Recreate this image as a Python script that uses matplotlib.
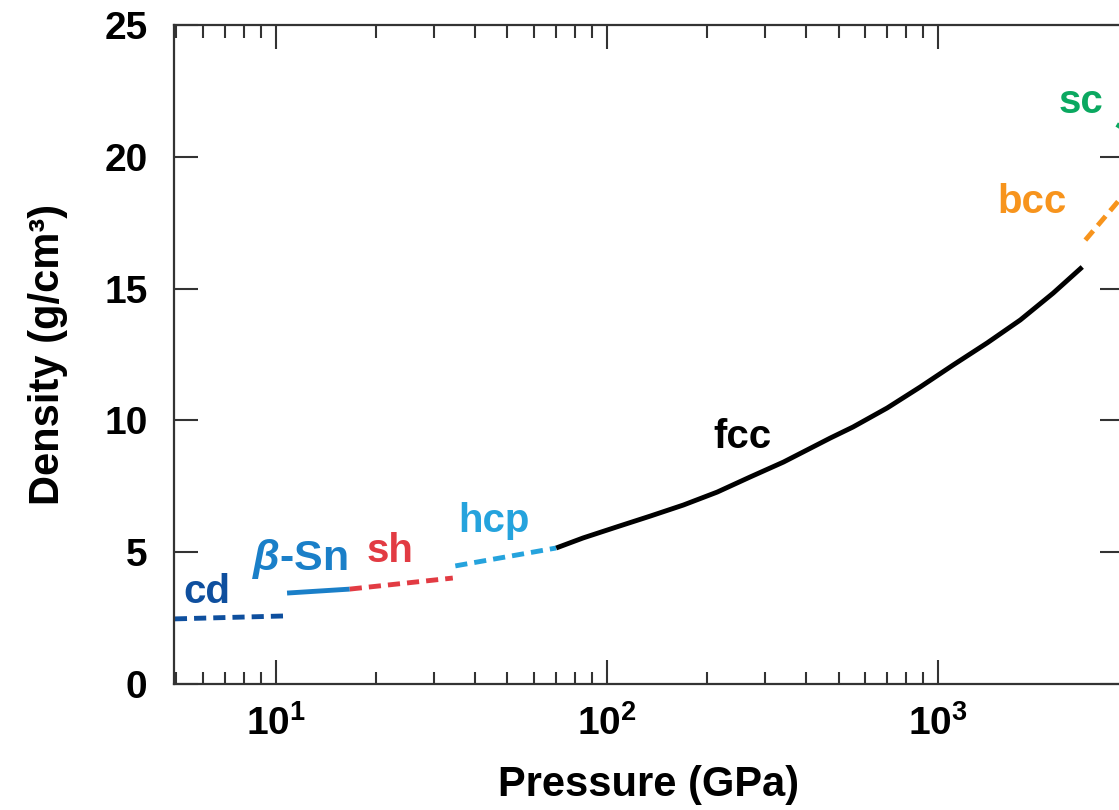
import numpy as np
import matplotlib
matplotlib.use('Agg')
import matplotlib.pyplot as plt
from matplotlib.ticker import FixedLocator, NullFormatter

plt.rcParams['font.family'] = ['Liberation Sans', 'DejaVu Sans']
plt.rcParams['font.weight'] = 'bold'
plt.rcParams['mathtext.fontset'] = 'custom'
plt.rcParams['mathtext.default'] = 'bf'
plt.rcParams['mathtext.bf'] = 'Liberation Sans:bold'
plt.rcParams['mathtext.rm'] = 'Liberation Sans:bold'
plt.rcParams['mathtext.it'] = 'Liberation Sans:bold:italic'

# phase segments: pressure (GPa) and density (g/cm3)
cd_p, cd_rho = [4.95, 10.5], [2.47, 2.58]
bsn_p, bsn_rho = [10.8, 16.7], [3.45, 3.60]
sh_p, sh_rho = [16.7, 34.2], [3.60, 4.02]
hcp_p, hcp_rho = [34.8, 70.2], [4.48, 5.16]
fcc_p = [70.2, 84.6, 107, 135, 170, 215, 270, 341, 472, 553, 701, 883,
         1109, 1406, 1770, 2225, 2723]
fcc_rho = [5.16, 5.54, 5.96, 6.37, 6.79, 7.28, 7.85, 8.42, 9.33, 9.75,
           10.47, 11.27, 12.10, 12.94, 13.81, 14.83, 15.82]
bcc_p, bcc_rho = [2782, 3800], [16.84, 18.85]
sc_p, sc_rho = [3480, 3800], [21.1, 21.9]

phase_names = ['cd', r'$\mathit{\beta}$-Sn', 'sh', 'hcp', 'fcc', 'bcc', 'sc']
label_p = [6.19, 11.8, 22.1, 45.6, 256, 1923, 2705]
label_rho = [3.07, 4.32, 4.63, 5.77, 8.95, 17.87, 21.66]
label_size = [29, 31, 29, 29, 29, 29, 29]
colours = ['#0e4f9e', '#1a7fc8', '#e23b43', '#25a3dd', 'black', '#f7941d', '#0aa860']

x_major = [10, 100, 1000]
x_major_labels = [r'$10^{1}$', r'$10^{2}$', r'$10^{3}$']
x_minor = [5, 6, 7, 8, 9, 20, 30, 40, 50, 60, 70, 80, 90,
           200, 300, 400, 500, 600, 700, 800, 900]
y_ticks = [0, 5, 10, 15, 20, 25]

fig = plt.figure(figsize=(11.19, 8.10), dpi=100)
ax = fig.add_axes([174 / 1119, 126 / 810, 950 / 1119, 659 / 810])

lw = 3.5
dash = (2.5, 1.45)
segs = [(cd_p, cd_rho, '--'), (bsn_p, bsn_rho, '-'), (sh_p, sh_rho, '--'),
        (hcp_p, hcp_rho, '--'), (fcc_p, fcc_rho, '-'), (bcc_p, bcc_rho, '--'),
        (sc_p, sc_rho, '--')]
for (p, rho, ls), c in zip(segs, colours):
    line, = ax.plot(p, rho, color=c, lw=lw, ls=ls, solid_capstyle='butt',
                    solid_joinstyle='round')
    if ls == '--':
        line.set_dashes(dash)

for name, p, rho, c, fs in zip(phase_names, label_p, label_rho, colours, label_size):
    ax.text(p, rho, name, color=c, fontsize=fs, fontweight='bold',
            ha='center', va='baseline')

ax.set_xscale('log')
ax.set_xlim(4.92, 3640)
ax.set_ylim(0, 25)

ax.xaxis.set_major_locator(FixedLocator(x_major))
ax.xaxis.set_minor_locator(FixedLocator(x_minor))
ax.xaxis.set_minor_formatter(NullFormatter())
ax.set_xticks(x_major, x_major_labels)
ax.set_yticks(y_ticks)

ax.tick_params(which='both', direction='in', top=True, right=True,
               color='#333333', width=1.5)
ax.tick_params(which='major', length=17, labelsize=28)
ax.tick_params(which='minor', length=9)
ax.tick_params(axis='y', pad=19)
ax.tick_params(axis='x', pad=15)
for s in ax.spines.values():
    s.set_linewidth(1.6)
    s.set_color('#333333')

ax.set_xlabel('Pressure (GPa)', fontsize=30, fontweight='bold', labelpad=16)
ax.set_ylabel('Density (g/cm³)', fontsize=30, fontweight='bold', labelpad=26)

fig.savefig('out.png', dpi=100)
